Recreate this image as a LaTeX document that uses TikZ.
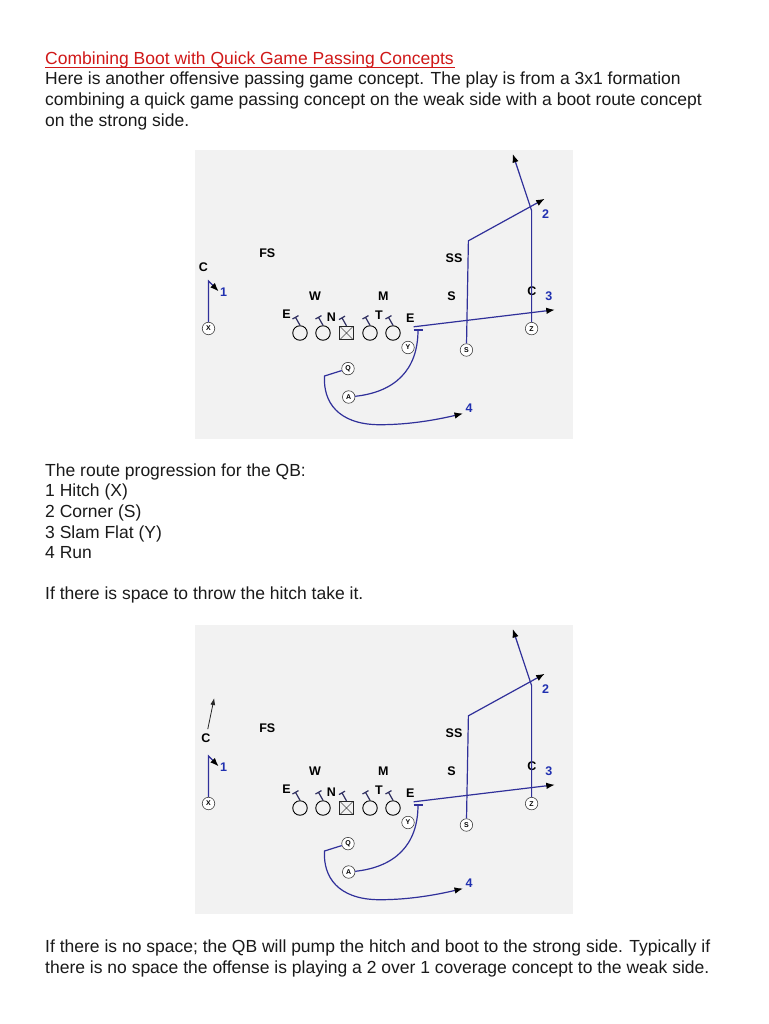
\documentclass[tikz,border=0pt]{standalone}
\usepackage{fontspec}
\setmainfont{Liberation Sans}
\usetikzlibrary{arrows.meta}
\definecolor{route}{HTML}{30309A}
\definecolor{numblue}{HTML}{2030B0}
\definecolor{titlered}{HTML}{D01818}
\definecolor{field}{HTML}{F2F2F2}
\definecolor{ink}{HTML}{1A1A1A}
\definecolor{tickc}{HTML}{2E2E60}
\tikzset{
  bodytext/.style={anchor=base west, inner sep=0pt, text=ink, font=\fontsize{17.5}{21}\selectfont},
  titletext/.style={bodytext, text=titlered},
  lbl/.style={inner sep=0pt, text=black, font=\fontsize{12.5}{13}\selectfont\bfseries},
  num/.style={inner sep=0pt, text=numblue, font=\fontsize{12.5}{13}\selectfont\bfseries},
  player/.style={circle, draw=black!75, fill=white, minimum size=12.5pt, inner sep=0pt, line width=0.6pt, font=\fontsize{7}{7}\selectfont\bfseries},
  lineman/.style={circle, draw=black, minimum size=14.5pt, inner sep=0pt, line width=0.9pt},
  centerbox/.style={rectangle, draw=black!85, minimum size=13.5pt, inner sep=0pt, line width=0.8pt,
    path picture={\draw[black!70, line width=0.5pt] (path picture bounding box.north west) -- (path picture bounding box.south east)
      (path picture bounding box.north east) -- (path picture bounding box.south west);}},
  rt/.style={draw=route, line width=1.2pt},
  rtarrow/.style={rt, -{Latex[length=8.5pt,width=6.5pt,color=black]}},
  tickst/.style={draw=tickc, line width=1.2pt},
}
% #1 name prefix, #2 vertical offset, #3 x of weak-side C, #4 y of weak-side C
\newcommand\playdiagram[4]{%
\begin{scope}[shift={(0,#2)}]
  \fill[field] (195,150) rectangle (573,439);
  % defensive labels
  \node[lbl] (#1cw) at (#3,#4) {C};
  \node[lbl] (#1fs) at (267.3,253.3) {FS};
  \node[lbl] (#1ss) at (454,258.3) {SS};
  \node[lbl] (#1w) at (315,296.3) {W};
  \node[lbl] (#1m) at (383.3,296.3) {M};
  \node[lbl] (#1sl) at (451.6,296.3) {S};
  \node[lbl] (#1cs) at (532,291.3) {C};
  \node[lbl] (#1e1) at (286.5,314.5) {E};
  \node[lbl] (#1n) at (331.5,317) {N};
  \node[lbl] (#1t) at (379,315) {T};
  \node[lbl] (#1e2) at (410.2,318) {E};
  % numbers
  \node[num] (#1n1) at (223.6,292) {1};
  \node[num] (#1n2) at (545.7,214.6) {2};
  \node[num] (#1n3) at (548.8,296) {3};
  \node[num] (#1n4) at (469,408) {4};
  % offensive line
  \node[lineman] (#1l1) at (300,333) {};
  \node[lineman] (#1l2) at (323,333) {};
  \node[centerbox] (#1l3) at (346.5,333) {};
  \node[lineman] (#1l4) at (370,333) {};
  \node[lineman] (#1l5) at (393,333) {};
  \foreach \k in {1,...,5}{
    \draw[tickst] (#1l\k.north) -- ++(-4.5,-8) ++(-3,1.7) -- ++(6,-3.4);
  }
  % skill players
  \node[player] (#1x) at (208.5,328.5) {X};
  \node[player] (#1y) at (408,347.5) {Y};
  \node[player] (#1s) at (466.4,350) {S};
  \node[player] (#1z) at (531.6,328.6) {Z};
  \node[player] (#1q) at (348,368.6) {Q};
  \node[player] (#1a) at (348.7,397) {A};
  % route points
  \coordinate (#1xc) at (208.5,281);
  \coordinate (#1xe) at (218.6,291.3);
  \coordinate (#1zc) at (531.6,210.6);
  \coordinate (#1ze) at (512.8,154);
  \coordinate (#1sc) at (468.4,240.8);
  \coordinate (#1se) at (544.7,198.8);
  \coordinate (#1ys) at (413.6,326.8);
  \coordinate (#1ye) at (554.8,309.8);
  \coordinate (#1blk) at (418,330);
  \coordinate (#1bl) at (413.5,330);
  \coordinate (#1br) at (422.5,330);
  \coordinate (#1qc) at (324.5,376);
  \coordinate (#1qm) at (378,424.7);
  \coordinate (#1qe) at (463,413.5);
  % routes
  \draw[rtarrow] (#1x) -- (#1xc) -- (#1xe);
  \draw[rtarrow] (#1z) -- (#1zc) -- (#1ze);
  \draw[rtarrow] (#1s) -- (#1sc) -- (#1se);
  \draw[rtarrow] (#1ys) -- (#1ye);
  \draw[rt] (#1a) .. controls (395,392) and (418,370) .. (#1blk);
  \draw[rt] (#1bl) -- (#1br);
  \draw[rtarrow] (#1q) -- (#1qc) .. controls (323,402) and (338,424) .. (#1qm)
     .. controls (410,425) and (440,419) .. (#1qe);
\end{scope}}
\begin{document}
\begin{tikzpicture}[x=1pt,y=-1pt]
\useasboundingbox (0,0) rectangle (768,1024);
\fill[white] (0,0) rectangle (768,1024);
% top text
\node[titletext] (title) at (45,64.5) {Combining Boot with Quick Game Passing Concepts};
\draw[titlered, line width=0.9pt] ([yshift=-2.6pt]title.base west) -- ([yshift=-2.6pt,xshift=1pt]title.base east);
\node[bodytext] (p1) at (45,85) {Here is another offensive passing game concept. The play is from a 3x1 formation};
\node[bodytext] (p2) at (45,105.5) {combining a quick game passing concept on the weak side with a boot route concept};
\node[bodytext] (p3) at (45,126.5) {on the strong side.};
% first diagram
\playdiagram{a}{0}{203.4}{266.7}
% middle text
\node[bodytext] (m1) at (45,476) {The route progression for the QB:};
\node[bodytext] (m2) at (45,496.7) {1 Hitch (X)};
\node[bodytext] (m3) at (45,517.3) {2 Corner (S)};
\node[bodytext] (m4) at (45,538) {3 Slam Flat (Y)};
\node[bodytext] (m5) at (45,558.7) {4 Run};
\node[bodytext] (m6) at (45,599.7) {If there is space to throw the hitch take it.};
% second diagram
\playdiagram{b}{475}{206}{262.7}
\coordinate (bup) at (214.2,698);
\draw[black!85, line width=0.8pt, -{Latex[length=7pt,width=5pt]}, shorten <=4pt] (bcw) -- (bup);
% bottom text
\node[bodytext] (q1) at (45,952) {If there is no space; the QB will pump the hitch and boot to the strong side. Typically if};
\node[bodytext] (q2) at (45,973) {there is no space the offense is playing a 2 over 1 coverage concept to the weak side.};
\end{tikzpicture}
\end{document}
